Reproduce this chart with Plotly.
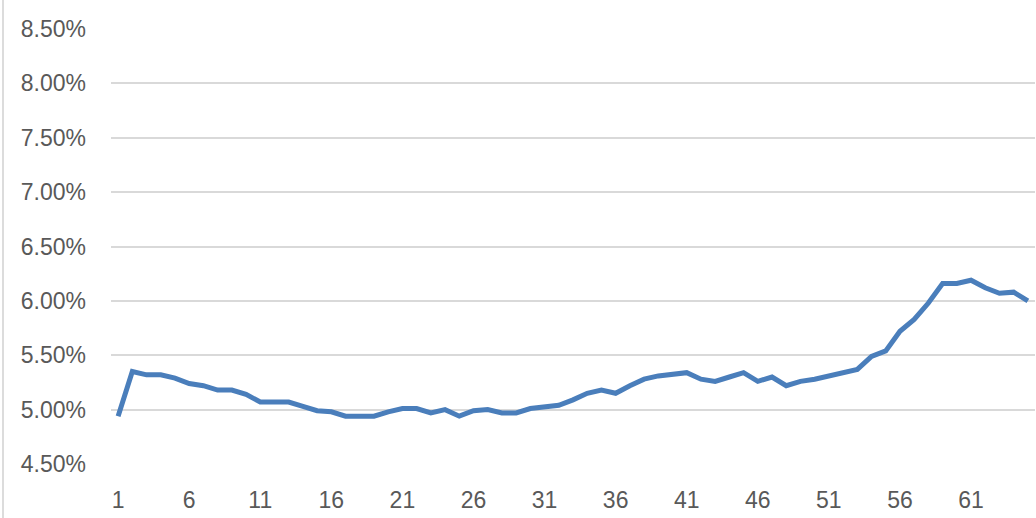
import plotly.graph_objects as go

periods = list(range(1, 66))
rates = [
    4.94, 5.35, 5.32, 5.32, 5.29, 5.24, 5.22, 5.18, 5.18, 5.14,
    5.07, 5.07, 5.07, 5.03, 4.99, 4.98, 4.94, 4.94, 4.94, 4.98,
    5.01, 5.01, 4.97, 5.00, 4.94, 4.99, 5.00, 4.97, 4.97, 5.01,
    5.03, 5.04, 5.09, 5.15, 5.18, 5.15, 5.22, 5.28, 5.31, 5.32,
    5.34, 5.28, 5.26, 5.30, 5.34, 5.26, 5.30, 5.22, 5.26, 5.28,
    5.31, 5.33, 5.37, 5.49, 5.54, 5.72, 5.83, 5.98, 6.16, 6.16,
    6.19, 6.12, 6.07, 6.08, 6.00,
]
y_ticks = [4.5, 5.0, 5.5, 6.0, 6.5, 7.0, 7.5, 8.0, 8.5]
y_tick_text = ["4.50%", "5.00%", "5.50%", "6.00%", "6.50%", "7.00%", "7.50%", "8.00%", "8.50%"]
x_ticks = [1, 6, 11, 16, 21, 26, 31, 36, 41, 46, 51, 56, 61]

fig = go.Figure()
fig.add_trace(go.Scatter(
    x=periods, y=rates, mode="lines",
    line=dict(color="#4a7ebb", width=5),
    hoverinfo="skip", showlegend=False,
))

font = dict(family="Liberation Sans, Arial, sans-serif", size=23, color="#595959")

fig.update_layout(
    width=1036, height=518,
    margin=dict(l=111, r=1, t=29, b=54),
    paper_bgcolor="white", plot_bgcolor="white",
    font=font,
    xaxis=dict(
        range=[0.5, 65.5], tickmode="array", tickvals=x_ticks,
        ticktext=[str(v) for v in x_ticks],
        showgrid=False, zeroline=False, showline=False,
        ticks="", ticklabelstandoff=20, tickfont=font,
    ),
    yaxis=dict(
        range=[4.5, 8.5], tickmode="array", tickvals=y_ticks, ticktext=y_tick_text,
        showgrid=True, gridcolor="#d9d9d9", gridwidth=1.5,
        zeroline=False, showline=False, ticks="",
        ticklabelstandoff=24, tickfont=font,
    ),
    shapes=[dict(
        type="line", xref="paper", yref="paper",
        x0=(3 - 111) / 924, x1=(3 - 111) / 924, y0=-54 / 435, y1=489 / 435,
        line=dict(color="#d0d0d0", width=1.5),
    )],
)

fig.write_html("out.html")
